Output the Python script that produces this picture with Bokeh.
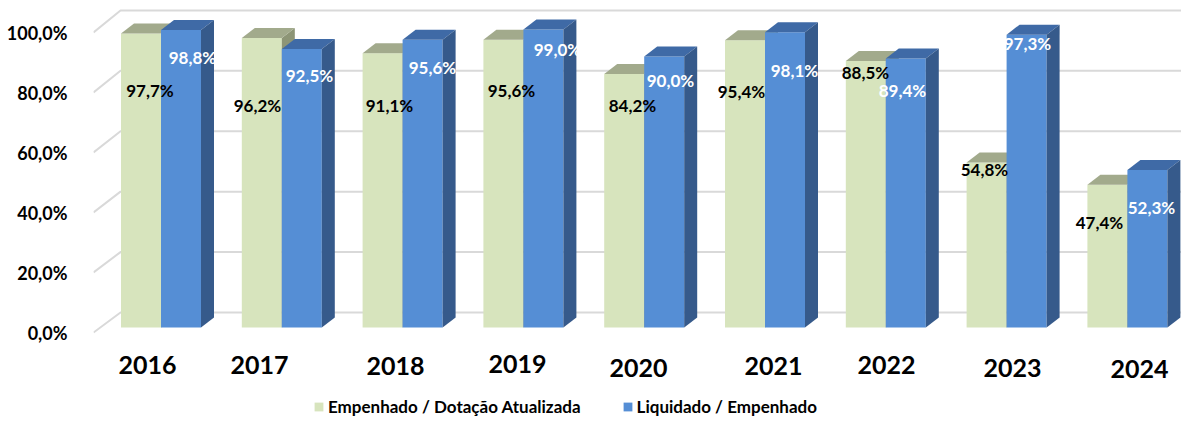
import numpy as np
from bokeh.plotting import figure
from bokeh.models import Range1d, FixedTicker, Legend, LegendItem, ColumnDataSource
from bokeh.core.properties import value
from bokeh.embed import file_html
from bokeh.resources import INLINE

# ---------------- data ----------------
years = ["2016", "2017", "2018", "2019", "2020", "2021", "2022", "2023", "2024"]
empenhado = [97.7, 96.2, 91.1, 95.6, 84.2, 95.4, 88.5, 54.8, 47.4]
liquidado = [98.8, 92.5, 95.6, 99.0, 90.0, 98.1, 89.4, 97.3, 52.3]
tick_values = [0, 20, 40, 60, 80, 100]
tick_labels = ["0,0%", "20,0%", "40,0%", "60,0%", "80,0%", "100,0%"]
series_names = ["Empenhado / Dotação Atualizada", "Liquidado / Empenhado"]

# ---------------- layout / style ----------------
FONT = "Lato"
GREEN, GREEN_TOP, GREEN_SIDE = "#d7e4bd", "#a2aa8c", "#8d9576"
BLUE, BLUE_TOP, BLUE_SIDE = "#558ed5", "#3f6aa6", "#365a8b"
GRID = "#d9d9d9"
PX = 3.0                  # screen px per value unit on the front plane
FLOOR_Y = 332.0           # screen y of the 0 value on the front plane
LEFT = 93                 # screen x of the plot frame's left edge
GROUP0, PITCH, BAR_W = 120.5, 120.8, 40.0
DEPTH_X, DEPTH_Y = 13.0, 10.0 / PX
BASE = 5.0 / PX           # bars stand slightly behind the front plane
SCALE = 1.0033
WALL_X0, WALL_X1 = 93.0, 120.0
WALL_DY, WALL_SCALE = 20.0 / PX, 1.007

# label offsets (px) relative to the group start / bar top
g_dx = [29, 15.7, 26.9, 28.1, 28.3, 16.5, 19.7, 17.9, 12.1]
g_dy = [57, 67.6, 52.2, 50.8, 31.4, 51.2, 11.4, 6.9, 37.7]
b_dx = [71.5, 67.7, 69.9, 74.1, 66.3, 69.5, 56.7, 60.9, 64.1]
b_dy = [27.4, 26.4, 27.8, 20, 23.9, 38.3, 32.1, 8.9, 37.4]
y_dx = [26.5, 17.7, 32.9, 34.1, 34.3, 48.5, 40.7, 45.9, 52.1]
y_dy = [32, 32, 33, 31, 35, 33, 32, 35, 36]

W, H = 1181, 417
p = figure(width=W, height=H, output_backend="svg", toolbar_location=None,
           x_range=Range1d(LEFT, W), y_range=Range1d((FLOOR_Y - H) / PX, FLOOR_Y / PX),
           x_axis_location=None, y_axis_location="left",
           min_border_left=LEFT, min_border_right=0, min_border_top=0, min_border_bottom=0)
p.xgrid.visible = False
p.ygrid.visible = False
p.outline_line_color = None
p.background_fill_color = "white"
p.border_fill_color = "white"

ax = p.yaxis[0]
ax.ticker = FixedTicker(ticks=tick_values)
ax.major_label_overrides = {t: l for t, l in zip(tick_values, tick_labels)}
ax.axis_line_color = None
ax.major_tick_line_color = None
ax.minor_tick_line_color = None
ax.major_label_standoff = 20
ax.major_label_text_font = FONT
ax.major_label_text_font_style = "bold"
ax.major_label_text_font_size = "18px"
ax.major_label_text_color = "#000000"

# ---------------- walls / gridlines ----------------
xs, ys = [], []
for t in tick_values:
    back = WALL_DY + t * WALL_SCALE
    xs.append([WALL_X0, WALL_X1, W])
    ys.append([t, back, back])
p.multi_line(xs, ys, line_color=GRID, line_width=2)

# ---------------- 3D bars ----------------
n = len(years)
g0 = np.array([GROUP0 + i * PITCH for i in range(n)])
g1 = g0 + BAR_W
b1 = g1 + BAR_W
gv = BASE + np.array(empenhado) * SCALE
bv = BASE + np.array(liquidado) * SCALE


def top_face(x0, x1, h):
    return ([[a, b, b + DEPTH_X, a + DEPTH_X] for a, b in zip(x0, x1)],
            [[v, v, v + DEPTH_Y, v + DEPTH_Y] for v in h])


def side_face(x1, h):
    return ([[a, a, a + DEPTH_X, a + DEPTH_X] for a in x1],
            [[BASE, v, v + DEPTH_Y, BASE + DEPTH_Y] for v in h])


gfront = p.quad(left=g0, right=g1, bottom=BASE, top=gv, fill_color=GREEN, line_color=None)
sx, sy = side_face(g1, gv)
p.patches(sx, sy, fill_color=GREEN_SIDE, line_color=None)
tx, ty = top_face(g0, g1, gv)
p.patches(tx, ty, fill_color=GREEN_TOP, line_color=None)

bfront = p.quad(left=g1, right=b1, bottom=BASE, top=bv, fill_color=BLUE, line_color=None)
tx, ty = top_face(g1, b1, bv)
p.patches(tx, ty, fill_color=BLUE_TOP, line_color=None)
sx, sy = side_face(b1, bv)
p.patches(sx, sy, fill_color=BLUE_SIDE, line_color=None)

# ---------------- value labels ----------------
def fmt(v):
    return f"{v:.1f}".replace(".", ",") + "%"


src_g = ColumnDataSource(dict(x=g0 + np.array(g_dx), y=gv - np.array(g_dy) / PX,
                              t=[fmt(v) for v in empenhado]))
src_b = ColumnDataSource(dict(x=g0 + np.array(b_dx), y=bv - np.array(b_dy) / PX,
                              t=[fmt(v) for v in liquidado]))
p.text("x", "y", text="t", source=src_g, text_font=value(FONT), text_font_style="bold",
       text_font_size="17px", text_color="#000000", text_align="center", text_baseline="middle")
p.text("x", "y", text="t", source=src_b, text_font=value(FONT), text_font_style="bold",
       text_font_size="17px", text_color="#ffffff", text_align="center", text_baseline="middle")

# ---------------- year labels ----------------
src_y = ColumnDataSource(dict(x=g0 + np.array(y_dx), y=-np.array(y_dy) / PX, t=years))
p.text("x", "y", text="t", source=src_y, text_font=value(FONT), text_font_style="bold",
       text_font_size="25px", text_color="#000000", text_align="center", text_baseline="middle")

# ---------------- legend ----------------
legend = Legend(items=[LegendItem(label=series_names[0], renderers=[gfront]),
                       LegendItem(label=series_names[1], renderers=[bfront])],
                orientation="horizontal", location=(313 - LEFT, 0),
                glyph_width=11, glyph_height=11, label_standoff=4, spacing=41,
                padding=0, margin=0, label_height=18,
                background_fill_alpha=0, border_line_color=None,
                label_text_font=FONT, label_text_font_style="bold",
                label_text_font_size="17px", label_text_color="#000000")
p.add_layout(legend)

open("out.html", "w").write(file_html(p, INLINE))
